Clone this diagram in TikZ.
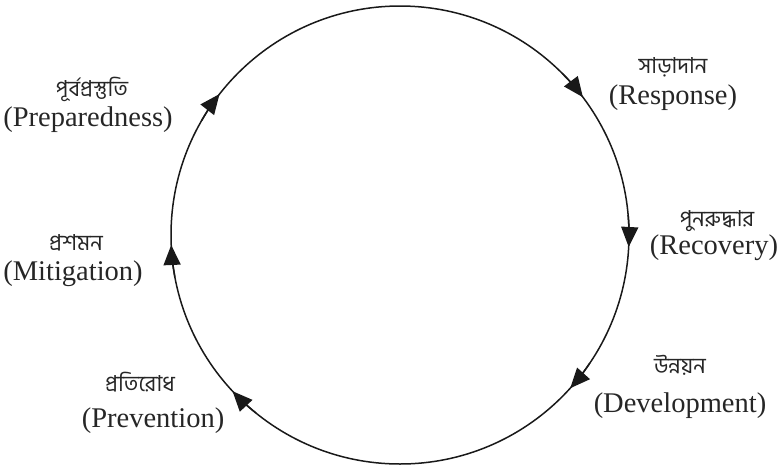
\documentclass[tikz,border=0pt]{standalone}
\usepackage{fontspec}
\setmainfont{Liberation Serif}
\newfontfamily\bn[Script=Bengali]{Hind Siliguri}
\usetikzlibrary{arrows.meta,calc}
\begin{document}
\begin{tikzpicture}[x=1pt,y=-1pt,
  en/.style={inner sep=0pt,text=black!85,font=\fontsize{28.5}{30}\selectfont},
  bnl/.style={inner sep=0pt,anchor=base,text height=15pt,text depth=5pt,text=black!85,font=\bn\fontsize{22}{24}\selectfont},
  cyc/.style={line width=1.5pt,black!90},
  tipa/.style={line width=1.5pt,black!90,-{Triangle[length=20pt,width=17pt]}}]
\useasboundingbox (0,0) rectangle (781,469);
\coordinate (c) at (400,235);
\draw[cyc] (c) circle[radius=229pt];
\foreach \a in {37,-3,-42,223,182.5,142}
  \draw[tipa] ($(c)+(\a+8:229pt)$) arc[start angle=\a+8,end angle=\a,radius=229pt];
\node[bnl] (prepB) at (92,96.5) {পূর্বপ্রস্তুতি};
\node[en] (prepE) at (88,120) {(Preparedness)};
\node[bnl] (respB) at (673,73.5) {সাড়াদান};
\node[en] (respE) at (673,98) {(Response)};
\node[bnl] (recoB) at (717,226.5) {পুনরুদ্ধার};
\node[en] (recoE) at (714,248) {(Recovery)};
\node[bnl] (mitiB) at (76,250.5) {প্রশমন};
\node[en] (mitiE) at (73,274) {(Mitigation)};
\node[bnl] (prevB) at (140,391.5) {প্রতিরোধ};
\node[en] (prevE) at (153,421) {(Prevention)};
\node[bnl] (deveB) at (680,373.5) {উন্নয়ন};
\node[en] (deveE) at (680,406) {(Development)};
\end{tikzpicture}
\end{document}
